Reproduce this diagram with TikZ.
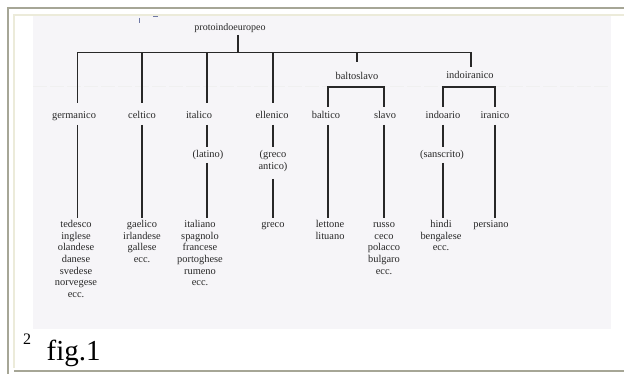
\documentclass[tikz,border=0pt]{standalone}
\usepackage{fontspec}
\setmainfont{Liberation Serif}
\definecolor{ink}{RGB}{40,40,40}
\definecolor{scanbg}{RGB}{246,245,248}
\definecolor{framegray}{RGB}{166,166,150}
\definecolor{framebeige}{RGB}{236,235,218}
\definecolor{speck}{RGB}{110,120,165}
\begin{document}
\begin{tikzpicture}[x=1pt,y=-1pt,
  lbl/.style={font=\fontsize{10.4}{11.6}\selectfont, text=ink, inner sep=0pt, align=center},
  lang/.style={lbl, anchor=base},
  list/.style={lbl, anchor=north},
  branch/.style={draw=ink, line width=1.1pt, line cap=butt}]
\useasboundingbox (0,0) rectangle (624,374);

% page frame
\draw[framegray, line width=2pt] (7.5,374) -- (7.5,8.5) -- (624,8.5);
\draw[framegray, line width=2pt] (14,370.5) -- (624,370.5);
\draw[framebeige, line width=2pt] (13.5,368) -- (13.5,15) -- (624,15);

% scanned sheet
\fill[scanbg] (33,16) rectangle (611,329);
\draw[black!6, line width=0.6pt, dash pattern=on 14pt off 3pt] (33,86) -- (611,86);
\draw[speck, line width=1pt] (139.5,18) -- (139.5,23);
\draw[speck, line width=0.8pt] (153,16.8) -- (158,16.8);

% root
\node[lang, font=\fontsize{10}{11.6}\selectfont] (proto) at (230,30.5) {protoindoeuropeo};
\coordinate (pTop) at (238,35);
\coordinate (pBus) at (238,52.5);
\coordinate (busL) at (77.5,52.5);
\coordinate (busR) at (471,52.5);
\draw[branch] (pTop) -- (pBus);
\draw[branch] (busL) -- (busR);

% second level labels
\node[lang] (germanico) at (74,118.5) {germanico};
\node[lang] (celtico) at (142,118.5) {celtico};
\node[lang] (italico) at (199,118.5) {italico};
\node[lang] (ellenico) at (272,118.5) {ellenico};
\node[lang] (baltoslavo) at (357,80) {baltoslavo};
\node[lang] (indoiranico) at (470,78.5) {indoiranico};
\node[lang] (baltico) at (326,118.5) {baltico};
\node[lang] (slavo) at (385,118.5) {slavo};
\node[lang] (indoario) at (443,118.5) {indoario};
\node[lang] (iranico) at (495,118.5) {iranico};

% column coordinates
\coordinate (gA) at (77.5,103);  \coordinate (gB) at (77.5,125);  \coordinate (gC) at (77.5,218);
\coordinate (cA) at (142,103);   \coordinate (cB) at (142,125);   \coordinate (cC) at (142,218);
\coordinate (iA) at (207,103);   \coordinate (iB) at (207,125);   \coordinate (iM) at (207,147);
\coordinate (iN) at (207,163);   \coordinate (iC) at (207,218);
\coordinate (eA) at (273,103);   \coordinate (eB) at (273,125);   \coordinate (eM) at (273,147);
\coordinate (eN) at (273,179);   \coordinate (eC) at (273,218);
\coordinate (bsA) at (357,52.5); \coordinate (bsB) at (357,62);
\coordinate (iiA) at (471,52.5); \coordinate (iiB) at (471,67);
\coordinate (btA) at (328,87);   \coordinate (btB) at (328,107);
\coordinate (slA) at (384,87);   \coordinate (slB) at (384,107);
\coordinate (ioA) at (443,87);   \coordinate (ioB) at (443,107);
\coordinate (irA) at (495,87);   \coordinate (irB) at (495,107);
\coordinate (btC) at (328,125);  \coordinate (btD) at (328,218);
\coordinate (slC) at (384,125);  \coordinate (slD) at (384,218);
\coordinate (ioC) at (443,125);  \coordinate (ioM) at (443,147);
\coordinate (ioN) at (443,163);  \coordinate (ioD) at (443,218);
\coordinate (irC) at (495,125);  \coordinate (irD) at (495,218);

% branches from the root bus
\draw[branch] (busL) -- (gA);
\draw[branch] (cA |- busL) -- (cA);
\draw[branch] (iA |- busL) -- (iA);
\draw[branch] (eA |- busL) -- (eA);
\draw[branch] (bsA) -- (bsB);
\draw[branch] (iiA) -- (iiB);

% sub-brackets
\draw[branch] (btB) -- (btA) -- (slA) -- (slB);
\draw[branch] (ioB) -- (ioA) -- (irA) -- (irB);

% intermediate stages
\node[lang] (latino) at (208,157.5) {(latino)};
\node[list] (grecoantico) at (273,149.3) {\strut(greco\\antico)};
\node[lang] (sanscrito) at (442,157.5) {(sanscrito)};

% descending lines
\draw[branch] (gB) -- (gC);
\draw[branch] (cB) -- (cC);
\draw[branch] (iB) -- (iM);
\draw[branch] (iN) -- (iC);
\draw[branch] (eB) -- (eM);
\draw[branch] (eN) -- (eC);
\draw[branch] (btC) -- (btD);
\draw[branch] (slC) -- (slD);
\draw[branch] (ioC) -- (ioM);
\draw[branch] (ioN) -- (ioD);
\draw[branch] (irC) -- (irD);

% modern languages
\node[list] (germlist) at (76,219.3) {\strut tedesco\\inglese\\olandese\\danese\\svedese\\norvegese\\ecc.};
\node[list] (celtlist) at (142,219.3) {\strut gaelico\\irlandese\\gallese\\ecc.};
\node[list] (italist) at (200,219.3) {\strut italiano\\spagnolo\\francese\\portoghese\\rumeno\\ecc.};
\node[list] (greco) at (273,219.3) {\strut greco};
\node[list] (baltlist) at (330,219.3) {\strut lettone\\lituano};
\node[list] (slavlist) at (384,219.3) {\strut russo\\ceco\\polacco\\bulgaro\\ecc.};
\node[list] (indlist) at (441,219.3) {\strut hindi\\bengalese\\ecc.};
\node[list] (persiano) at (491,219.3) {\strut persiano};

% caption
\node[anchor=base west, inner sep=0pt, font=\fontsize{16}{16}\selectfont] (note) at (23,344) {2};
\node[anchor=base west, inner sep=0pt, font=\fontsize{29}{29}\selectfont] (fig) at (46.5,360) {fig.1};
\end{tikzpicture}
\end{document}
